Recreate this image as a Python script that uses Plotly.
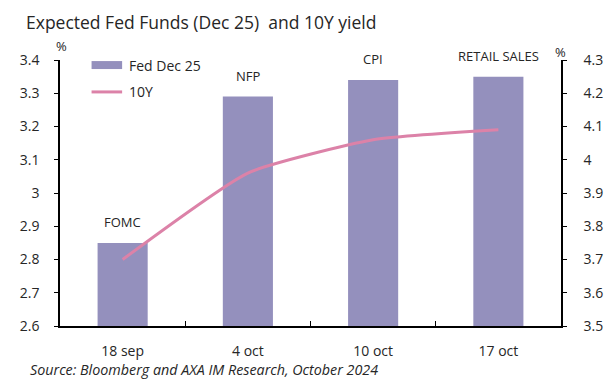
import plotly.graph_objects as go

categories = ["18 sep", "4 oct", "10 oct", "17 oct"]
fed_dec25 = [2.85, 3.29, 3.34, 3.35]
yield_10y = [3.70, 3.96, 4.06, 4.09]
events = ["FOMC", "NFP", "CPI", "RETAIL SALES"]
left_ticks = [2.6, 2.7, 2.8, 2.9, 3.0, 3.1, 3.2, 3.3, 3.4]
left_labels = ["2.6", "2.7", "2.8", "2.9", "3", "3.1", "3.2", "3.3", "3.4"]
right_ticks = [3.5, 3.6, 3.7, 3.8, 3.9, 4.0, 4.1, 4.2, 4.3]
right_labels = ["3.5", "3.6", "3.7", "3.8", "3.9", "4", "4.1", "4.2", "4.3"]

FONT = "Open Sans"
TXT = "#262626"
BAR = "#9490bd"
LINE = "#dc82a8"

fig = go.Figure()
fig.add_trace(go.Bar(x=categories, y=fed_dec25, name="Fed Dec 25",
                     marker=dict(color=BAR, line=dict(width=0)), width=0.4))
fig.add_trace(go.Scatter(x=categories, y=yield_10y, name="10Y", yaxis="y2",
                         mode="lines", line=dict(color=LINE, width=3, shape="spline", smoothing=0.5)))

for c, v, e in zip(categories, fed_dec25, events):
    fig.add_annotation(x=c, y=v, text=e, showarrow=False, yanchor="bottom", yshift=10,
                       font=dict(family=FONT, size=13, color=TXT))

# page body adds an 8px offset, so the figure is 8px smaller and margins shifted
fig.update_layout(
    width=607, height=371,
    margin=dict(l=37, r=45, t=52, b=53),
    paper_bgcolor="white", plot_bgcolor="white",
    font=dict(family=FONT, size=13, color=TXT),
    showlegend=False,
    bargap=0.6,
    xaxis=dict(type="category", showline=True, linecolor="black", linewidth=1.5,
               ticks="inside", tickson="boundaries", ticklen=5, tickcolor="black",
               tickfont=dict(family=FONT, size=14, color=TXT), showgrid=False, ticklabelstandoff=11),
    yaxis=dict(range=[2.6, 3.4], tickvals=left_ticks, ticktext=left_labels,
               showline=True, linecolor="black", linewidth=1.5, ticks="outside",
               ticklen=4, tickcolor="black", showgrid=False, zeroline=False,
               tickfont=dict(family=FONT, size=14, color=TXT), ticklabelstandoff=12),
    yaxis2=dict(range=[3.5, 4.3], tickvals=right_ticks, ticktext=right_labels, overlaying="y",
                side="right", showline=True, linecolor="black", linewidth=1.5, ticks="outside",
                ticklen=4, tickcolor="black", showgrid=False, zeroline=False,
                tickfont=dict(family=FONT, size=14, color=TXT), ticklabelstandoff=14),
)

# custom legend (wide swatches like the original)
fig.add_shape(type="rect", xref="paper", yref="paper", x0=0.063, x1=0.124, y0=0.966, y1=0.996,
              fillcolor=BAR, line=dict(width=0))
fig.add_shape(type="line", xref="paper", yref="paper", x0=0.063, x1=0.124, y0=0.880, y1=0.880,
              line=dict(color=LINE, width=3))
fig.add_annotation(xref="paper", yref="paper", x=0.133, y=0.981, xanchor="left", yanchor="middle",
                   text="Fed Dec 25", showarrow=False, font=dict(family=FONT, size=14, color=TXT))
fig.add_annotation(xref="paper", yref="paper", x=0.133, y=0.880, xanchor="left", yanchor="middle",
                   text="10Y", showarrow=False, font=dict(family=FONT, size=14, color=TXT))

fig.add_annotation(xref="paper", yref="paper", x=-0.072, y=1.0, yshift=52, xanchor="left", yanchor="top",
                   text="Expected Fed Funds (Dec 25)  and 10Y yield", showarrow=False,
                   font=dict(family=FONT, size=17.5, color=TXT))
fig.add_annotation(xref="paper", yref="paper", x=-0.012, y=1.0, yanchor="bottom", yshift=3,
                   text="%", showarrow=False, font=dict(family=FONT, size=13, color=TXT))
fig.add_annotation(xref="paper", yref="paper", x=1.013, y=1.0, yanchor="bottom", yshift=-3,
                   text="%", showarrow=False, font=dict(family=FONT, size=13, color=TXT))
fig.add_annotation(xref="paper", yref="paper", x=-0.063, y=0, yshift=-32, xanchor="left", yanchor="top",
                   text="<i>Source: Bloomberg and AXA IM Research, October 2024</i>", showarrow=False,
                   font=dict(family=FONT, size=14.3, color=TXT))

fig.write_html("out.html")
